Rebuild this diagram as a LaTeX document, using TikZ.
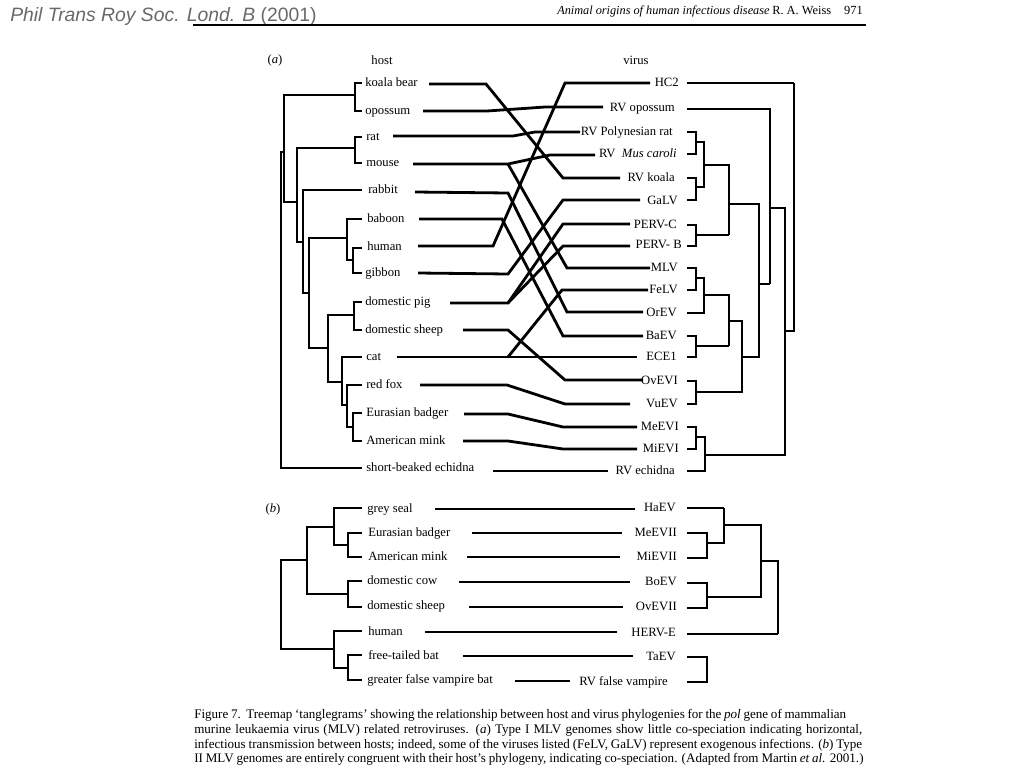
\documentclass[tikz,border=0pt]{standalone}
\usepackage{fontspec}
\setmainfont{Liberation Serif}
\newfontfamily\hdrsans{Liberation Sans}
\definecolor{hdrgray}{RGB}{105,105,105}
\newcommand{\labfont}{\fontsize{9.5}{11}\selectfont}
\newcommand{\capfont}{\fontsize{9.8}{11}\selectfont}
\begin{document}
\begin{tikzpicture}[x=0.75pt,y=-0.75pt,line join=miter,
  tr/.style={line width=2.2pt},
  tn/.style={line width=1.7pt},
  cn/.style={line width=2.1pt},
  hl/.style={font=\labfont, anchor=west, inner sep=0pt, text height=7pt, text depth=2pt},
  vl/.style={font=\labfont, anchor=east, inner sep=0pt, text height=7pt, text depth=2pt},
  capl/.style={font=\capfont, anchor=base west, inner sep=0pt},
]
\fill[white] (0,0) rectangle (1024,768);
\useasboundingbox (0,0) rectangle (1024,768);

% ---------- header ----------
\node[anchor=base west, inner sep=0pt, text=hdrgray, font=\hdrsans\fontsize{14.5}{16}\selectfont] (journal) at (10,21) {\itshape Phil Trans Roy Soc. Lond. B \upshape(2001)};
\draw[line width=1.1pt] (193,25) -- (866,25);
\node[anchor=base west, inner sep=0pt, font=\fontsize{9.2}{10}\selectfont\itshape] (runhead) at (557,14) {Animal origins of human infectious disease};
\node[anchor=base west, inner sep=0pt, font=\fontsize{9.3}{10}\selectfont] (author) at (772,14) {R. A. Weiss};
\node[anchor=base east, inner sep=0pt, font=\fontsize{9.3}{10}\selectfont] (page) at (863,14) {971};

% ---------- part (a) headings ----------
\node[font=\labfont, inner sep=0pt] (pa) at (275,60) {(\textit{a})};
\node[font=\labfont, inner sep=0pt] (hosthd) at (382,60) {host};
\node[font=\labfont, inner sep=0pt] (virushd) at (636,60) {virus};

% host labels (a)
\node[hl] (koala) at (365,83) {koala bear};
\node[hl] (opossum) at (365,111) {opossum};
\node[hl] (rat) at (366,137) {rat};
\node[hl] (mouse) at (366,163) {mouse};
\node[hl] (rabbit) at (368,190) {rabbit};
\node[hl] (baboon) at (367,219) {baboon};
\node[hl] (human) at (367,247) {human};
\node[hl] (gibbon) at (365,273) {gibbon};
\node[hl] (pig) at (365,302) {domestic pig};
\node[hl] (sheep) at (365,330) {domestic sheep};
\node[hl] (cat) at (366,357) {cat};
\node[hl] (fox) at (366,385) {red fox};
\node[hl] (badger) at (366,413) {Eurasian badger};
\node[hl] (mink) at (366,441) {American mink};
\node[hl] (echidna) at (366,468) {short-beaked echidna};

% virus labels (a)
\node[vl] (hc2) at (679,83) {HC2};
\node[vl] (rvop) at (675,108) {RV opossum};
\node[vl] (rvpr) at (673,132) {RV Polynesian rat};
\node[vl] (rvmc) at (677,154) {RV \ \textit{Mus caroli}};
\node[vl] (rvko) at (675,178) {RV koala};
\node[vl] (galv) at (678,201) {GaLV};
\node[vl] (pervc) at (677,225) {PERV-C};
\node[vl] (pervb) at (682,245) {PERV- B};
\node[vl] (mlv) at (678,268) {MLV};
\node[vl] (felv) at (678,290) {FeLV};
\node[vl] (orev) at (677,313) {OrEV};
\node[vl] (baev) at (677,336) {BaEV};
\node[vl] (ece) at (677,357) {ECE1};
\node[vl] (ovevi) at (678,381) {OvEVI};
\node[vl] (vuev) at (678,404) {VuEV};
\node[vl] (meevi) at (679,427) {MeEVI};
\node[vl] (mievi) at (679,449) {MiEVI};
\node[vl] (rvech) at (675,471) {RV echidna};

% host tree (a)
\draw[tr] (362,83) -- (355,83) -- (355,111) -- (362,111);
\draw[tr] (355,95) -- (284,95) -- (284,202) -- (297,202);
\draw[tr] (362,137) -- (355,137) -- (355,163) -- (362,163);
\draw[tr] (355,148) -- (297,148) -- (297,242) -- (303,242);
\draw[tr] (362,190) -- (303,190) -- (303,293) -- (309,293);
\draw[tr] (362,219) -- (347,219) -- (347,260) -- (353,260);
\draw[tr] (362,248) -- (353,248) -- (353,273) -- (362,273);
\draw[tr] (347,238) -- (309,238) -- (309,348) -- (328,348);
\draw[tr] (362,302) -- (354,302) -- (354,330) -- (362,330);
\draw[tr] (354,315) -- (328,315) -- (328,382) -- (342,382);
\draw[tr] (362,357) -- (342,357) -- (342,405) -- (347,405);
\draw[tr] (362,385) -- (347,385) -- (347,427) -- (353,427);
\draw[tr] (362,413) -- (353,413) -- (353,441) -- (362,441);
\draw[tr] (284,152) -- (281,152) -- (281,468) -- (362,468);

% virus tree (a)
\draw[tr] (687,83) -- (794,83);
\draw[tn] (794,83) -- (794,331) -- (785,331);
\draw[tr] (687,109) -- (770,109) -- (770,284);
\draw[tn] (770,284) -- (759,284);
\draw[tr] (687,132) -- (696,132) -- (696,154) -- (687,154);
\draw[tn] (696,142) -- (704,142) -- (704,187) -- (696,187);
\draw[tr] (687,178) -- (696,178) -- (696,200) -- (687,200);
\draw[tn] (704,165) -- (729,165) -- (729,235);
\draw[tr] (687,225) -- (696,225) -- (696,246) -- (687,246);
\draw[tn] (696,235) -- (729,235);
\draw[tn] (729,204) -- (759,204) -- (759,357) -- (742,357);
\draw[tn] (770,208) -- (785,208) -- (785,455) -- (705,455);
\draw[tr] (687,268) -- (696,268) -- (696,290) -- (687,290);
\draw[tn] (696,278) -- (704,278) -- (704,313) -- (687,313);
\draw[tn] (704,295) -- (729,295) -- (729,346);
\draw[tr] (687,336) -- (696,336) -- (696,357) -- (687,357);
\draw[tn] (696,346) -- (729,346);
\draw[tn] (729,321) -- (742,321) -- (742,392) -- (696,392);
\draw[tr] (687,381) -- (696,381) -- (696,404) -- (687,404);
\draw[tr] (687,427) -- (696,427) -- (696,449) -- (687,449);
\draw[tn] (696,437) -- (705,437) -- (705,471) -- (687,471);

% connectors (a)
\coordinate (ck0) at (429,84);  \coordinate (ck1) at (620,178);
\coordinate (co0) at (423,111); \coordinate (co1) at (603,107);
\coordinate (cr0) at (393,136); \coordinate (cr1) at (580,132);
\coordinate (cm0) at (413,164); \coordinate (cm1) at (595,155); \coordinate (cm2) at (650,268);
\coordinate (crb0) at (415,192); \coordinate (crb1) at (643,312);
\coordinate (cb0) at (419,219); \coordinate (cb1) at (643,336);
\coordinate (ch0) at (418,246); \coordinate (ch1) at (650,83);
\coordinate (cg0) at (418,273); \coordinate (cg1) at (640,200);
\coordinate (cp0) at (450,303); \coordinate (cp1) at (630,224); \coordinate (cp2) at (630,246);
\coordinate (cs0) at (463,330); \coordinate (cs1) at (643,380);
\coordinate (cc0) at (397,357); \coordinate (cc1) at (637,357); \coordinate (cc2) at (648,290);
\coordinate (cf0) at (420,385); \coordinate (cf1) at (630,404);
\coordinate (cbd0) at (464,414); \coordinate (cbd1) at (637,427);
\coordinate (cmk0) at (463,441); \coordinate (cmk1) at (637,449);
\coordinate (ce0) at (493,471); \coordinate (ce1) at (608,471);

\draw[cn] (ck0) -- (486,84) -- (563,178) -- (ck1);
\draw[cn] (co0) -- (487,111) -- (545,107) -- (co1);
\draw[cn] (cr0) -- (513,136) -- (535,132) -- (cr1);
\draw[cn] (cm0) -- (508,164) -- (550,155) -- (cm1);
\draw[cn] (508,164) -- (567,268) -- (cm2);
\draw[cn] (crb0) -- (508,193) -- (567,312) -- (crb1);
\draw[cn] (cb0) -- (502,219) -- (563,336) -- (cb1);
\draw[cn] (ch0) -- (493,246) -- (565,83) -- (ch1);
\draw[cn] (cg0) -- (508,274) -- (563,200) -- (cg1);
\draw[cn] (cp0) -- (508,303) -- (563,224) -- (cp1);
\draw[cn] (508,303) -- (563,246) -- (cp2);
\draw[cn] (cs0) -- (508,330) -- (565,380) -- (cs1);
\draw[cn] (cc0) -- (cc1);
\draw[cn] (508,357) -- (562,290) -- (cc2);
\draw[cn] (cf0) -- (507,385) -- (565,404) -- (cf1);
\draw[cn] (cbd0) -- (508,414) -- (563,427) -- (cbd1);
\draw[cn] (cmk0) -- (508,441) -- (563,449) -- (cmk1);
\draw[cn] (ce0) -- (ce1);

% ---------- part (b) ----------
\node[font=\labfont, inner sep=0pt] (pb) at (273,509) {(\textit{b})};
\node[hl] (bseal) at (367,509) {grey seal};
\node[hl] (bbadger) at (368,533) {Eurasian badger};
\node[hl] (bmink) at (368,557) {American mink};
\node[hl] (bcow) at (367,581) {domestic cow};
\node[hl] (bsheep) at (367,606) {domestic sheep};
\node[hl] (bhuman) at (368,632) {human};
\node[hl] (bbat) at (368,656) {free-tailed bat};
\node[hl] (bvamp) at (367,680) {greater false vampire bat};

\node[vl] (haev) at (676,508) {HaEV};
\node[vl] (meevii) at (677,533) {MeEVII};
\node[vl] (mievii) at (677,557) {MiEVII};
\node[vl] (boev) at (677,582) {BoEV};
\node[vl] (ovevii) at (677,607) {OvEVII};
\node[vl] (herve) at (676,633) {HERV-E};
\node[vl] (taev) at (676,657) {TaEV};
\node[vl] (rvfv) at (668,682) {RV false vampire};

% host tree (b)
\draw[tr] (362,508) -- (334,508) -- (334,545) -- (348,545);
\draw[tr] (362,533) -- (348,533) -- (348,557) -- (362,557);
\draw[tr] (334,527) -- (307,527) -- (307,594) -- (348,594);
\draw[tr] (362,581) -- (348,581) -- (348,607) -- (362,607);
\draw[tr] (307,560) -- (281,560) -- (281,649) -- (334,649);
\draw[tr] (362,631) -- (334,631) -- (334,668) -- (348,668);
\draw[tr] (362,655) -- (348,655) -- (348,680) -- (362,680);

% virus tree (b)
\draw[tr] (687,508) -- (724,508);
\draw[tn] (724,508) -- (724,543) -- (707,543);
\draw[tr] (687,533) -- (707,533) -- (707,558) -- (687,558);
\draw[tn] (724,525) -- (761,525) -- (761,597) -- (707,597);
\draw[tr] (687,583) -- (707,583) -- (707,608) -- (687,608);
\draw[tn] (761,561) -- (778,561) -- (778,634);
\draw[tr] (778,634) -- (687,634);
\draw[tr] (687,657) -- (707,657) -- (707,682) -- (687,682);

% connectors (b)
\coordinate (d10) at (435,509); \coordinate (d11) at (635,509);
\coordinate (d20) at (472,533); \coordinate (d21) at (622,533);
\coordinate (d30) at (467,557); \coordinate (d31) at (620,557);
\coordinate (d40) at (459,582); \coordinate (d41) at (630,582);
\coordinate (d50) at (469,607); \coordinate (d51) at (623,607);
\coordinate (d60) at (425,632); \coordinate (d61) at (617,632);
\coordinate (d70) at (463,656); \coordinate (d71) at (633,656);
\coordinate (d80) at (515,681); \coordinate (d81) at (570,681);
\draw[cn] (d10) -- (d11);
\draw[cn] (d20) -- (d21);
\draw[cn] (d30) -- (d31);
\draw[cn] (d40) -- (d41);
\draw[cn] (d50) -- (d51);
\draw[cn] (d60) -- (d61);
\draw[cn] (d70) -- (d71);
\draw[cn] (d80) -- (d81);

% ---------- caption ----------
\node[capl] (cap1) at (194,718) {\hbox to 489pt{Figure 7.\ \ Treemap ‘tanglegrams’ showing the relationship between host and virus phylogenies for the \textit{pol} gene of mammalian}};
\node[capl] (cap2) at (194,733) {\hbox to 501pt{murine leukaemia virus (MLV) related retroviruses. (\textit{a}) Type I MLV genomes show little co-speciation indicating horizontal,}};
\node[capl] (cap3) at (194,748) {\hbox to 501pt{infectious transmission between hosts; indeed, some of the viruses listed (FeLV, GaLV) represent exogenous infections. (\textit{b}) Type}};
\node[capl] (cap4) at (194,762) {\hbox to 502pt{II MLV genomes are entirely congruent with their host’s phylogeny, indicating co-speciation. (Adapted from Martin \textit{et al.} 2001.)}};
\end{tikzpicture}
\end{document}
